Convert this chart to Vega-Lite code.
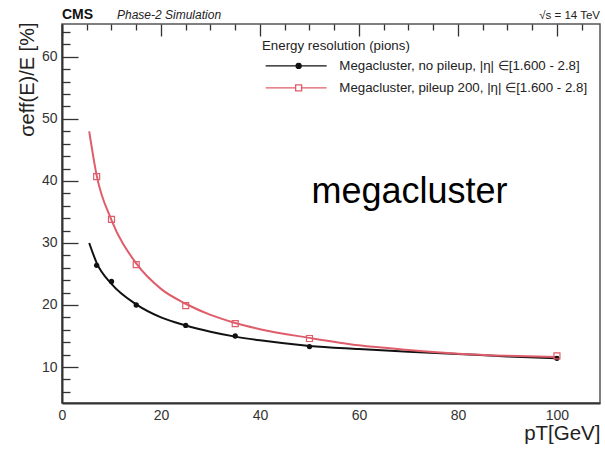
{
  "$schema": "https://vega.github.io/schema/vega-lite/v6.json",
  "width": 538,
  "height": 379,
  "autosize": "none",
  "padding": {"left": 62, "top": 24, "right": 5, "bottom": 46},
  "background": "white",
  "config": {
    "font": "Liberation Sans",
    "view": {"stroke": "#555", "strokeWidth": 1.5}
  },
  "datasets": {
    "points": [
      {"pt": 7, "res": 26.4, "series": "Megacluster, no pileup, |η| ∈[1.600 - 2.8]"},
      {"pt": 10, "res": 23.8, "series": "Megacluster, no pileup, |η| ∈[1.600 - 2.8]"},
      {"pt": 15, "res": 20.0, "series": "Megacluster, no pileup, |η| ∈[1.600 - 2.8]"},
      {"pt": 25, "res": 16.7, "series": "Megacluster, no pileup, |η| ∈[1.600 - 2.8]"},
      {"pt": 35, "res": 15.0, "series": "Megacluster, no pileup, |η| ∈[1.600 - 2.8]"},
      {"pt": 50, "res": 13.3, "series": "Megacluster, no pileup, |η| ∈[1.600 - 2.8]"},
      {"pt": 100, "res": 11.4, "series": "Megacluster, no pileup, |η| ∈[1.600 - 2.8]"},
      {"pt": 7, "res": 40.7, "series": "Megacluster, pileup 200, |η| ∈[1.600 - 2.8]"},
      {"pt": 10, "res": 33.8, "series": "Megacluster, pileup 200, |η| ∈[1.600 - 2.8]"},
      {"pt": 15, "res": 26.5, "series": "Megacluster, pileup 200, |η| ∈[1.600 - 2.8]"},
      {"pt": 25, "res": 19.9, "series": "Megacluster, pileup 200, |η| ∈[1.600 - 2.8]"},
      {"pt": 35, "res": 17.0, "series": "Megacluster, pileup 200, |η| ∈[1.600 - 2.8]"},
      {"pt": 50, "res": 14.6, "series": "Megacluster, pileup 200, |η| ∈[1.600 - 2.8]"},
      {"pt": 100, "res": 11.8, "series": "Megacluster, pileup 200, |η| ∈[1.600 - 2.8]"}
    ],
    "fits": [
      {"pt": 5.5, "res": 30.0, "series": "Megacluster, no pileup, |η| ∈[1.600 - 2.8]"},
      {"pt": 7, "res": 26.8, "series": "Megacluster, no pileup, |η| ∈[1.600 - 2.8]"},
      {"pt": 10, "res": 23.4, "series": "Megacluster, no pileup, |η| ∈[1.600 - 2.8]"},
      {"pt": 15, "res": 20.1, "series": "Megacluster, no pileup, |η| ∈[1.600 - 2.8]"},
      {"pt": 20, "res": 18.0, "series": "Megacluster, no pileup, |η| ∈[1.600 - 2.8]"},
      {"pt": 25, "res": 16.7, "series": "Megacluster, no pileup, |η| ∈[1.600 - 2.8]"},
      {"pt": 30, "res": 15.7, "series": "Megacluster, no pileup, |η| ∈[1.600 - 2.8]"},
      {"pt": 35, "res": 14.9, "series": "Megacluster, no pileup, |η| ∈[1.600 - 2.8]"},
      {"pt": 40, "res": 14.3, "series": "Megacluster, no pileup, |η| ∈[1.600 - 2.8]"},
      {"pt": 50, "res": 13.4, "series": "Megacluster, no pileup, |η| ∈[1.600 - 2.8]"},
      {"pt": 60, "res": 12.9, "series": "Megacluster, no pileup, |η| ∈[1.600 - 2.8]"},
      {"pt": 70, "res": 12.45, "series": "Megacluster, no pileup, |η| ∈[1.600 - 2.8]"},
      {"pt": 80, "res": 12.1, "series": "Megacluster, no pileup, |η| ∈[1.600 - 2.8]"},
      {"pt": 90, "res": 11.7, "series": "Megacluster, no pileup, |η| ∈[1.600 - 2.8]"},
      {"pt": 100, "res": 11.4, "series": "Megacluster, no pileup, |η| ∈[1.600 - 2.8]"},
      {"pt": 5.5, "res": 48.0, "series": "Megacluster, pileup 200, |η| ∈[1.600 - 2.8]"},
      {"pt": 7, "res": 40.9, "series": "Megacluster, pileup 200, |η| ∈[1.600 - 2.8]"},
      {"pt": 10, "res": 33.7, "series": "Megacluster, pileup 200, |η| ∈[1.600 - 2.8]"},
      {"pt": 15, "res": 26.7, "series": "Megacluster, pileup 200, |η| ∈[1.600 - 2.8]"},
      {"pt": 20, "res": 22.6, "series": "Megacluster, pileup 200, |η| ∈[1.600 - 2.8]"},
      {"pt": 25, "res": 20.2, "series": "Megacluster, pileup 200, |η| ∈[1.600 - 2.8]"},
      {"pt": 30, "res": 18.4, "series": "Megacluster, pileup 200, |η| ∈[1.600 - 2.8]"},
      {"pt": 35, "res": 17.1, "series": "Megacluster, pileup 200, |η| ∈[1.600 - 2.8]"},
      {"pt": 40, "res": 16.1, "series": "Megacluster, pileup 200, |η| ∈[1.600 - 2.8]"},
      {"pt": 50, "res": 14.7, "series": "Megacluster, pileup 200, |η| ∈[1.600 - 2.8]"},
      {"pt": 60, "res": 13.5, "series": "Megacluster, pileup 200, |η| ∈[1.600 - 2.8]"},
      {"pt": 70, "res": 12.75, "series": "Megacluster, pileup 200, |η| ∈[1.600 - 2.8]"},
      {"pt": 80, "res": 12.15, "series": "Megacluster, pileup 200, |η| ∈[1.600 - 2.8]"},
      {"pt": 90, "res": 11.8, "series": "Megacluster, pileup 200, |η| ∈[1.600 - 2.8]"},
      {"pt": 100, "res": 11.6, "series": "Megacluster, pileup 200, |η| ∈[1.600 - 2.8]"}
    ]
  },
  "layer": [
    {
      "data": {"name": "fits"},
      "mark": {"type": "line", "strokeWidth": 2, "interpolate": "monotone"},
      "encoding": {
        "x": {
          "field": "pt", "type": "quantitative",
          "scale": {"domain": [0, 108.7], "nice": false, "zero": false},
          "axis": {
            "values": [0, 5, 10, 15, 20, 25, 30, 35, 40, 45, 50, 55, 60, 65, 70, 75, 80, 85, 90, 95, 100, 105],
            "tickCount": 200,
            "format": "d",
            "labelExpr": "datum.value % 20 === 0 ? datum.label : ''",
            "ticks": false,
            "grid": true,
            "gridColor": "#333",
            "gridWidth": 1.3,
            "gridOpacity": 1,
            "gridDash": {"condition": {"test": "datum.value % 20 === 0", "value": [12, 2000]}, "value": [6, 2000]},
            "labelPadding": 5,
            "labelFontSize": 14,
            "labelColor": "#333",
            "labelFlush": false,
            "labelOverlap": false,
            "domainColor": "#333",
            "domainWidth": 2,
            "title": "pT[GeV]",
            "titleFontSize": 20.5,
            "titleFontWeight": "normal",
            "titleColor": "#222",
            "titleAnchor": "end",
            "titleAlign": "right",
            "titleBaseline": "alphabetic",
            "titleX": 538,
            "titleY": 36
          }
        },
        "y": {
          "field": "res", "type": "quantitative",
          "scale": {"domain": [4.2, 65.3], "nice": false, "zero": false},
          "axis": {
            "values": [6, 8, 10, 12, 14, 16, 18, 20, 22, 24, 26, 28, 30, 32, 34, 36, 38, 40, 42, 44, 46, 48, 50, 52, 54, 56, 58, 60, 62, 64],
            "tickCount": 200,
            "format": "d",
            "labelExpr": "datum.value % 10 === 0 ? datum.label : ''",
            "ticks": false,
            "grid": true,
            "gridColor": "#333",
            "gridWidth": 1.3,
            "gridOpacity": 1,
            "gridDash": {"condition": {"test": "datum.value % 10 === 0", "value": [16, 2000]}, "value": [8, 2000]},
            "labelPadding": 5,
            "labelFontSize": 14,
            "labelColor": "#333",
            "labelFlush": false,
            "labelOverlap": false,
            "domainColor": "#333",
            "domainWidth": 2,
            "title": "σeff(E)/E [%]",
            "titleFontSize": 20,
            "titleFontWeight": "normal",
            "titleColor": "#222",
            "titleAngle": 270,
            "titleAnchor": "end",
            "titleAlign": "right",
            "titleBaseline": "alphabetic",
            "titleX": -29,
            "titleY": -2
          }
        },
        "color": {
          "field": "series", "type": "nominal",
          "scale": {
            "domain": ["Megacluster, no pileup, |η| ∈[1.600 - 2.8]", "Megacluster, pileup 200, |η| ∈[1.600 - 2.8]"],
            "range": ["#111111", "#df5d6b"]
          },
          "legend": {
            "orient": "none",
            "legendX": 200,
            "legendY": 15,
            "direction": "vertical",
            "title": "Energy resolution (pions)",
            "titleFontSize": 13.3,
            "titleFontWeight": "normal",
            "titleColor": "#222",
            "titlePadding": 7,
            "labelFontSize": 13.3,
            "labelColor": "#222",
            "labelLimit": 500,
            "labelOffset": 64,
            "symbolType": "M-0.6,0H11.6",
            "symbolSize": 100,
            "symbolStrokeWidth": 1.3,
            "rowPadding": 8,
            "encode": {
              "symbols": {
                "update": {
                  "shape": {"signal": "indexof(datum.value, 'no pileup') >= 0 ? 'M-0.6,0H11.6M6.5,0A0.5,0.5 0 1,1 5.5,0A0.5,0.5 0 1,1 6.5,0Z' : 'M-0.6,0H5.4M6.6,0H11.6M5.4,-0.6H6.6V0.6H5.4Z'"},
                  "fill": {"signal": "indexof(datum.value, 'no pileup') >= 0 ? '#111111' : 'transparent'"}
                }
              }
            }
          }
        }
      }
    },
    {
      "data": {"name": "points"},
      "transform": [{"filter": {"field": "series", "equal": "Megacluster, no pileup, |η| ∈[1.600 - 2.8]"}}],
      "mark": {"type": "point", "shape": "circle", "filled": true, "size": 28, "color": "#111111", "opacity": 1},
      "encoding": {
        "x": {"field": "pt", "type": "quantitative"},
        "y": {"field": "res", "type": "quantitative"}
      }
    },
    {
      "data": {"name": "points"},
      "transform": [{"filter": {"field": "series", "equal": "Megacluster, pileup 200, |η| ∈[1.600 - 2.8]"}}],
      "mark": {"type": "point", "shape": "square", "filled": false, "size": 36, "color": "#df5d6b", "strokeWidth": 1.2, "opacity": 1},
      "encoding": {
        "x": {"field": "pt", "type": "quantitative"},
        "y": {"field": "res", "type": "quantitative"}
      }
    },
    {
      "data": {"values": [{}]},
      "mark": {"type": "text", "align": "left", "baseline": "alphabetic", "dy": -5, "fontSize": 14, "fontWeight": "bold", "color": "#111"},
      "encoding": {
        "x": {"datum": 0, "type": "quantitative"},
        "y": {"datum": 65.3, "type": "quantitative"},
        "text": {"value": "CMS"}
      }
    },
    {
      "data": {"values": [{}]},
      "mark": {"type": "text", "align": "left", "baseline": "alphabetic", "dy": -5, "dx": 55, "fontSize": 12, "fontStyle": "italic", "color": "#222"},
      "encoding": {
        "x": {"datum": 0, "type": "quantitative"},
        "y": {"datum": 65.3, "type": "quantitative"},
        "text": {"value": "Phase-2 Simulation"}
      }
    },
    {
      "data": {"values": [{}]},
      "mark": {"type": "text", "align": "right", "baseline": "alphabetic", "dy": -5, "fontSize": 11.5, "color": "#222"},
      "encoding": {
        "x": {"datum": 108.7, "type": "quantitative"},
        "y": {"datum": 65.3, "type": "quantitative"},
        "text": {"value": "√s = 14 TeV"}
      }
    },
    {
      "data": {"values": [{}]},
      "mark": {"type": "text", "align": "center", "baseline": "alphabetic", "fontSize": 36, "color": "#000"},
      "encoding": {
        "x": {"datum": 70.2, "type": "quantitative"},
        "y": {"datum": 36.45, "type": "quantitative"},
        "text": {"value": "megacluster"}
      }
    }
  ]
}
